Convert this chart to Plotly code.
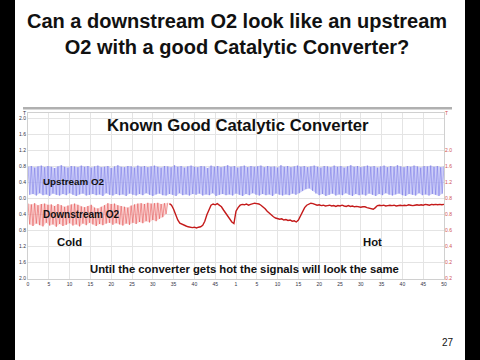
import plotly.graph_objects as go

# ---------------- data ----------------
# Upstream O2 sensor (blue), sampled every 0.4 time units from 0
blue_o2 = [
    0.78,0.08, 0.80,0.10, 0.76,0.06, 0.79,0.12, 0.81,0.07, 0.77,0.09, 0.80,0.05, 0.78,0.11, 0.75,0.08, 0.79,0.06,
    0.82,0.10, 0.78,0.07, 0.76,0.12, 0.80,0.08, 0.79,0.05, 0.77,0.09, 0.81,0.11, 0.78,0.06, 0.80,0.08, 0.76,0.10,
    0.79,0.07, 0.81,0.09, 0.77,0.05, 0.78,0.12, 0.80,0.08, 0.75,0.06, 0.79,0.10, 0.82,0.07, 0.78,0.09, 0.77,0.05,
    0.80,0.11, 0.79,0.08, 0.76,0.06, 0.81,0.10, 0.78,0.07, 0.80,0.12, 0.77,0.08, 0.79,0.05, 0.81,0.09, 0.78,0.11,
    0.76,0.07, 0.80,0.06, 0.79,0.10, 0.77,0.08, 0.82,0.05, 0.78,0.12, 0.80,0.07, 0.76,0.09, 0.79,0.06, 0.81,0.10,
    0.78,0.08, 0.77,0.11, 0.80,0.06, 0.79,0.09, 0.75,0.07, 0.81,0.12, 0.78,0.05, 0.80,0.08, 0.77,0.10, 0.79,0.07,
    0.82,0.09, 0.78,0.06, 0.80,0.11, 0.76,0.08, 0.79,0.05, 0.81,0.10, 0.77,0.07, 0.80,0.12, 0.78,0.08, 0.79,0.06,
    0.81,0.10, 0.77,0.07, 0.80,0.09, 0.78,0.05, 0.79,0.11, 0.76,0.08, 0.82,0.06, 0.78,0.09, 0.80,0.07, 0.77,0.11,
    0.79,0.08, 0.81,0.12, 0.78,0.18, 0.80,0.22, 0.77,0.24, 0.79,0.18, 0.81,0.11, 0.78,0.07, 0.76,0.10, 0.80,0.05,
    0.79,0.08, 0.77,0.11, 0.81,0.06, 0.78,0.09, 0.80,0.07, 0.76,0.12, 0.79,0.08, 0.82,0.05, 0.78,0.10, 0.80,0.07,
    0.77,0.09, 0.79,0.06, 0.81,0.11, 0.78,0.08, 0.80,0.05, 0.76,0.10, 0.79,0.07, 0.81,0.12, 0.77,0.08, 0.80,0.06,
    0.78,0.09, 0.82,0.11, 0.79,0.07, 0.77,0.05, 0.80,0.10, 0.78,0.08, 0.81,0.06, 0.79,0.12, 0.76,0.07, 0.80,0.09,
    0.79,0.06, 0.81,0.10, 0.78,0.08, 0.80,0.05, 0.77,0.11, 0.79,
]
blue_start, blue_step = 0, 0.4

# Downstream O2 while cold (red, switching), sampled every 0.4 from 0
red_cold = [
    -0.14,-0.66, -0.16,-0.70, -0.13,-0.64, -0.18,-0.68, -0.15,-0.71, -0.14,-0.62, -0.17,-0.69, -0.16,-0.66,
    -0.20,-0.72, -0.15,-0.65, -0.18,-0.70, -0.22,-0.67, -0.19,-0.63, -0.16,-0.69, -0.14,-0.66, -0.17,-0.71,
    -0.21,-0.64, -0.23,-0.68, -0.20,-0.62, -0.17,-0.66, -0.24,-0.70, -0.26,-0.65, -0.22,-0.68, -0.18,-0.64,
    -0.13,-0.62, -0.15,-0.67, -0.14,-0.63, -0.18,-0.66, -0.20,-0.69, -0.22,-0.64, -0.24,-0.67, -0.19,-0.62,
    -0.16,-0.65, -0.14,-0.60, -0.13,-0.63, -0.15,-0.58, -0.12,-0.61, -0.14,-0.55, -0.13,-0.58, -0.12,-0.52,
    -0.15,-0.48, -0.13,-0.40, -0.12,
]
red_cold_start, red_cold_step = 0, 0.4

# Downstream O2 warming up / hot (red, steady), sampled every 0.5 from 34
red_hot = [
    -0.14,-0.18,-0.28,-0.42,-0.55,-0.63,-0.66,-0.69,-0.70,-0.72,
    -0.73,-0.74,-0.73,-0.75,-0.73,-0.72,-0.68,-0.58,-0.42,-0.28,
    -0.18,-0.15,-0.17,-0.14,-0.18,-0.22,-0.30,-0.38,-0.46,-0.53,
    -0.60,-0.64,-0.33,-0.24,-0.18,-0.16,-0.17,-0.15,-0.18,-0.16,
    -0.15,-0.13,-0.14,-0.15,-0.18,-0.22,-0.27,-0.33,-0.38,-0.43,
    -0.47,-0.50,-0.52,-0.53,-0.52,-0.55,-0.54,-0.56,-0.55,-0.58,
    -0.57,-0.60,-0.55,-0.45,-0.33,-0.24,-0.18,-0.15,-0.13,-0.14,
    -0.16,-0.18,-0.17,-0.19,-0.18,-0.20,-0.19,-0.18,-0.20,-0.19,
    -0.21,-0.19,-0.20,-0.18,-0.20,-0.21,-0.19,-0.21,-0.20,-0.22,
    -0.21,-0.22,-0.23,-0.22,-0.22,-0.24,-0.25,-0.27,-0.28,-0.24,
    -0.19,-0.18,-0.19,-0.18,-0.20,-0.19,-0.18,-0.19,-0.18,-0.20,
    -0.19,-0.18,-0.19,-0.18,-0.19,-0.17,-0.18,-0.19,-0.18,-0.17,
    -0.18,-0.17,-0.18,-0.16,-0.17,-0.18,-0.16,-0.17,-0.16,-0.17,
    -0.16,-0.17,-0.16,
]
red_hot_start, red_hot_step = 34, 0.5

x_tick_values = [0, 5, 10, 15, 20, 25, 30, 35, 40, 45, 50, 55, 60, 65, 70, 75, 80, 85, 90, 95, 100]
x_tick_labels = ["0", "5", "10", "15", "20", "25", "30", "35", "40", "45", "1",
                 "5", "10", "15", "20", "25", "30", "35", "40", "45", "50"]
y_tick_values = [2.125, 2.0, 1.6, 1.2, 0.8, 0.4, 0.0, -0.4, -0.8, -1.2, -1.6, -2.0]
y_tick_labels = ["T", "2.0", "1.6", "1.2", "0.8", "0.4", "0.0", "0.4", "0.8", "1.2", "1.6", "2.0"]
y2_tick_values = [2.125, 1.2, 0.8, 0.4, 0.0, -0.4, -0.8, -1.2, -1.6, -2.0]
y2_tick_labels = ["T", "2.0", "1.6", "1.2", "0.8", "0.8", "0.6", "0.4", "0.2", "0.2"]

# ---------------- layout helpers (pixel -> paper) ----------------
W, H = 480, 360
L, R, T, B = 28, 36, 113, 81
PW, PH = W - L - R, H - T - B


def px(x):
    return (x - L) / PW


def py(y):
    return (H - B - y) / PH


FONT = "Liberation Sans, Arial, sans-serif"

fig = go.Figure()

# envelope bands (highs / lows of the switching signals) give the blurred fill look
fig.add_trace(go.Scatter(y=blue_o2[0::2], x0=blue_start, dx=2 * blue_step, mode="lines",
                         line=dict(width=0, color="rgba(0,0,0,0)"), hoverinfo="skip"))
fig.add_trace(go.Scatter(y=blue_o2[1::2], x0=blue_start + blue_step, dx=2 * blue_step, mode="lines",
                         line=dict(width=0, color="rgba(0,0,0,0)"), fill="tonexty",
                         fillcolor="rgba(188,190,246,0.75)", hoverinfo="skip"))
fig.add_trace(go.Scatter(y=blue_o2, x0=blue_start, dx=blue_step, mode="lines",
                         line=dict(color="rgba(100,100,225,0.45)", width=0.9), name="Upstream O2",
                         hoverinfo="skip"))

fig.add_trace(go.Scatter(y=red_cold[0::2], x0=red_cold_start, dx=2 * red_cold_step, mode="lines",
                         line=dict(width=0, color="rgba(0,0,0,0)"), yaxis="y2", hoverinfo="skip"))
fig.add_trace(go.Scatter(y=red_cold[1::2], x0=red_cold_start + red_cold_step, dx=2 * red_cold_step,
                         mode="lines", line=dict(width=0, color="rgba(0,0,0,0)"), fill="tonexty",
                         fillcolor="rgba(246,185,185,0.6)", yaxis="y2", hoverinfo="skip"))
fig.add_trace(go.Scatter(y=red_cold, x0=red_cold_start, dx=red_cold_step, mode="lines",
                         line=dict(color="rgba(225,60,60,0.5)", width=0.9), name="Downstream O2 cold",
                         yaxis="y2", hoverinfo="skip"))
fig.add_trace(go.Scatter(y=red_hot, x0=red_hot_start, dx=red_hot_step, mode="lines",
                         line=dict(color="#c41a1a", width=1.4), name="Downstream O2 hot",
                         yaxis="y2", hoverinfo="skip"))

tickfont = dict(family=FONT, size=5, color="#334")
fig.update_layout(
    width=W, height=H,
    margin=dict(l=L, r=R, t=T, b=B, autoexpand=False),
    paper_bgcolor="white", plot_bgcolor="white",
    showlegend=False,
    xaxis=dict(range=[0, 100], tickmode="array", tickvals=x_tick_values, ticktext=x_tick_labels,
               tickfont=tickfont, showgrid=True, gridcolor="#e4e4e4", gridwidth=1,
               zeroline=False, showline=True, linecolor="#d0d0d0", mirror=True,
               ticks="", fixedrange=True),
    yaxis=dict(range=[-2.025, 2.125], tickmode="array", tickvals=y_tick_values, ticktext=y_tick_labels,
               tickfont=tickfont, showgrid=True, gridcolor="#e4e4e4", gridwidth=1,
               zeroline=False, showline=True, linecolor="#d0d0d0", mirror=True,
               ticks="", fixedrange=True),
    yaxis2=dict(range=[-2.025, 2.125], overlaying="y", side="right", tickmode="array",
                tickvals=y2_tick_values, ticktext=y2_tick_labels,
                tickfont=dict(family=FONT, size=5, color="#d05050"),
                showgrid=False, zeroline=False, ticks="", fixedrange=True),
)

annots = [
    ("Can a downstream O2 look like an upstream<br>O2 with a good Catalytic Converter?", 237, 34, 20, "center", "bold"),
    ("Known Good Catalytic Converter", 237.5, 125, 16.7, "center", "bold"),
    ("Upstream O2", 40.7, 181, 9.8, "left", "bold"),
    ("Downstream O2", 40.7, 214, 10, "left", "bold"),
    ("Cold", 69, 241.7, 11.3, "center", "bold"),
    ("Hot", 372, 241.7, 11.3, "center", "bold"),
    ("Until the converter gets hot the signals will look the same", 244, 268.7, 11.3, "center", "bold"),
    ("27", 448, 342, 10, "center", "normal"),
]
for text, ax, ay, size, anchor, weight in annots:
    t = f"<b>{text}</b>" if weight == "bold" else text
    fig.add_annotation(text=t, x=px(ax), y=py(ay), xref="paper", yref="paper",
                       xanchor=anchor, yanchor="middle", showarrow=False,
                       font=dict(family=FONT, size=size, color="#111111"))

# gray bar on top of chart and black side bars of the slide frame
fig.add_shape(type="rect", xref="paper", yref="paper", x0=px(23), x1=px(452), y0=py(109.5), y1=py(107),
              fillcolor="#b0b0b0", line=dict(width=0))
fig.add_shape(type="rect", xref="paper", yref="paper", x0=px(-5), x1=px(15), y0=py(370), y1=py(-10),
              fillcolor="black", line=dict(width=0))
fig.add_shape(type="rect", xref="paper", yref="paper", x0=px(465), x1=px(485), y0=py(370), y1=py(-10),
              fillcolor="black", line=dict(width=0))

fig.write_html("out.html", config={"displayModeBar": False},
               post_script="document.body.style.margin='0';document.body.style.overflow='hidden';")
